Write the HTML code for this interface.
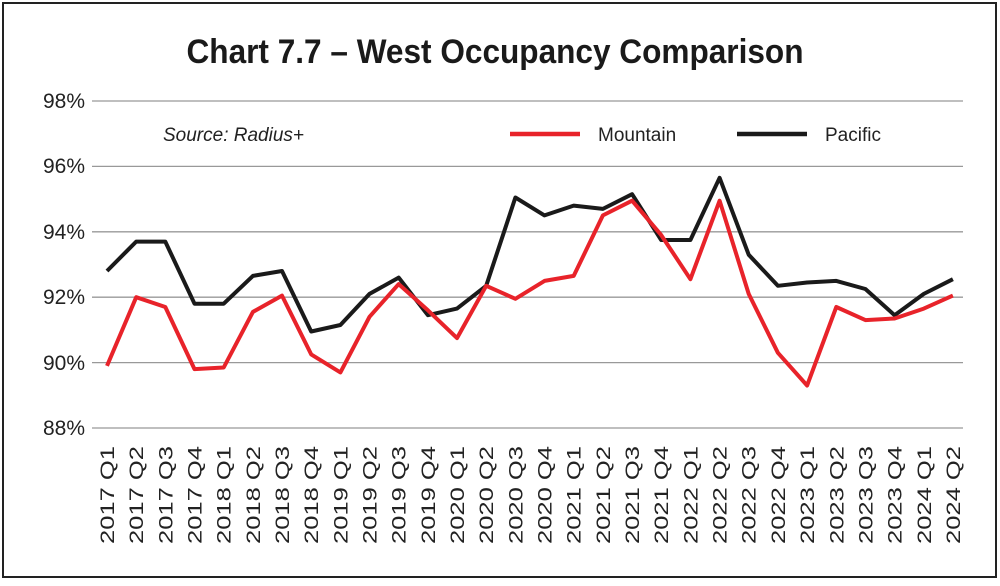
<!DOCTYPE html>
<html><head><meta charset="utf-8"><style>
body{margin:0;background:#fff;width:1000px;height:581px;overflow:hidden}
</style></head><body>
<svg width="1000" height="581" xmlns="http://www.w3.org/2000/svg" font-family="Liberation Sans, Arial, sans-serif">
<rect x="3" y="3" width="993" height="574" fill="#fff" stroke="#222" stroke-width="2"/>
<text x="495" y="63" text-anchor="middle" font-size="34" font-weight="bold" fill="#1a1a1a" textLength="617" lengthAdjust="spacingAndGlyphs">Chart 7.7 – West Occupancy Comparison</text>
<g stroke="#999" stroke-width="1.3">
<line x1="92" x2="963" y1="101" y2="101"/><line x1="92" x2="963" y1="166.4" y2="166.4"/>
<line x1="92" x2="963" y1="231.8" y2="231.8"/><line x1="92" x2="963" y1="297.2" y2="297.2"/>
<line x1="92" x2="963" y1="362.6" y2="362.6"/><line x1="92" x2="963" y1="428" y2="428"/>
</g>
<g font-size="21" fill="#222" text-anchor="end">
<text x="85" y="108">98%</text><text x="85" y="173">96%</text><text x="85" y="239">94%</text>
<text x="85" y="304">92%</text><text x="85" y="370">90%</text><text x="85" y="435">88%</text>
</g>
<text x="163" y="141" font-size="19" font-style="italic" fill="#222">Source: Radius+</text>
<line x1="510" x2="580" y1="134" y2="134" stroke="#e8232a" stroke-width="4.5"/>
<text x="598" y="141" font-size="19" fill="#222">Mountain</text>
<line x1="737" x2="807" y1="134" y2="134" stroke="#1a1a1a" stroke-width="4.5"/>
<text x="825" y="141" font-size="19" fill="#222">Pacific</text>
<g id="lines"></g>
<g id="labels" font-size="19" fill="#222"></g>
</svg>
<script>
var P=[92.8,93.7,93.7,91.8,91.8,92.65,92.8,90.95,91.15,92.1,92.6,91.45,91.65,92.35,95.05,94.5,94.8,94.7,95.15,93.75,93.75,95.65,93.3,92.35,92.45,92.5,92.25,91.45,92.1,92.55];
var M=[89.9,92.0,91.7,89.8,89.85,91.55,92.05,90.25,89.7,91.4,92.4,91.6,90.75,92.35,91.95,92.5,92.65,94.5,94.95,93.9,92.55,94.95,92.1,90.3,89.3,91.7,91.3,91.35,91.65,92.05];
function X(i){return 107+i*29.17}function Y(v){return 428-(v-88)*32.7}
function pts(a){return a.map(function(v,i){return X(i).toFixed(1)+","+Y(v).toFixed(1)}).join(" ")}
var ns="http://www.w3.org/2000/svg",g=document.getElementById("lines");
[[P,"#1a1a1a"],[M,"#e8232a"]].forEach(function(s){var p=document.createElementNS(ns,"polyline");p.setAttribute("points",pts(s[0]));p.setAttribute("fill","none");p.setAttribute("stroke",s[1]);p.setAttribute("stroke-width","4");p.setAttribute("stroke-linejoin","round");g.appendChild(p)});
var L=document.getElementById("labels");
for(var i=0;i<30;i++){var y=2017+Math.floor(i/4),q=i%4+1;var t=document.createElementNS(ns,"text");var x=X(i)+7;t.setAttribute("x",x);t.setAttribute("y",446);t.setAttribute("text-anchor","end");t.setAttribute("textLength","98");t.setAttribute("lengthAdjust","spacingAndGlyphs");t.setAttribute("transform","rotate(-90 "+x+" 446)");t.textContent=y+" Q"+q;L.appendChild(t)}
</script>
</body></html>
